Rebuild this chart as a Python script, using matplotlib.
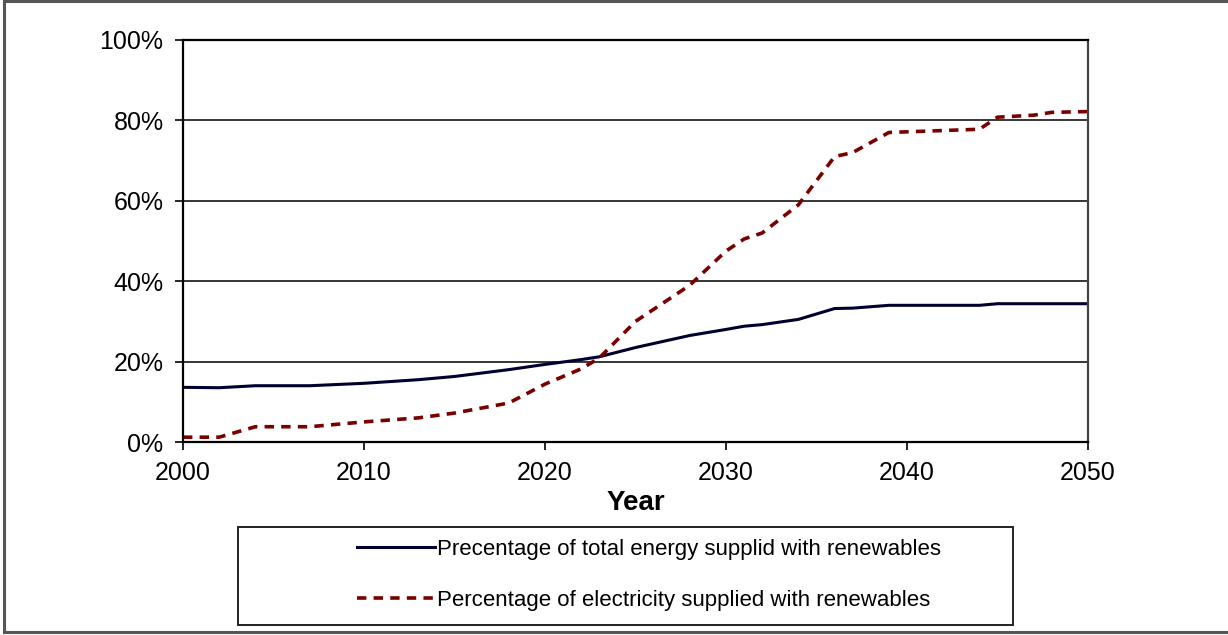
import matplotlib.pyplot as plt
from matplotlib.lines import Line2D
from matplotlib.patches import Rectangle
from matplotlib.ticker import FuncFormatter

plt.rcParams['font.family'] = ['Liberation Sans', 'DejaVu Sans']

years = [2000, 2002, 2004, 2007, 2010, 2013, 2015, 2018, 2020, 2022, 2023,
         2025, 2028, 2030, 2031, 2032, 2034, 2036, 2037, 2039, 2044, 2045,
         2047, 2048, 2050]
total_energy = [13.6, 13.5, 14.0, 14.0, 14.6, 15.5, 16.3, 18.0, 19.3, 20.5, 21.2,
                23.5, 26.5, 28.0, 28.8, 29.2, 30.5, 33.2, 33.3, 34.0, 34.0, 34.4,
                34.4, 34.4, 34.4]
electricity = [1.2, 1.2, 3.8, 3.8, 5.0, 6.0, 7.2, 9.7, 14.4, 18.2, 20.9,
               30.0, 39.0, 47.5, 50.5, 52.0, 59.0, 71.0, 72.0, 77.0, 77.8, 80.8,
               81.3, 82.0, 82.2]

label_total = "Precentage of total energy supplid with renewables"
label_elec = "Percentage of electricity supplied with renewables"

fig = plt.figure(figsize=(12.28, 6.35), dpi=100)
ax = fig.add_axes([183/1228, 1-442/635, 905/1228, 402/635])

ax.plot(years, total_energy, color='#000030', lw=2.2, label=label_total)
ax.plot(years, electricity, color='#7a0000', lw=2.6, dashes=(2.6, 2.0), label=label_elec)

ax.set_xlim(2000, 2050)
ax.set_ylim(0, 100)
ax.set_xticks(range(2000, 2051, 10))
ax.set_yticks(range(0, 101, 20))
ax.yaxis.set_major_formatter(FuncFormatter(lambda v, p: f"{v:.0f}%"))
ax.tick_params(axis='both', labelsize=18, direction='out', length=6, width=1.2, colors='black')
ax.tick_params(axis='x', pad=8)
ax.tick_params(axis='y', pad=8)
ax.yaxis.grid(True, color='black', lw=1.1)
ax.set_axisbelow(True)
for side in ['left', 'bottom', 'top']:
    ax.spines[side].set_linewidth(1.6)
    ax.spines[side].set_color('black')
ax.spines['right'].set_linewidth(1.6)
ax.spines['right'].set_color('#444444')

ax.set_xlabel("Year", fontsize=20, fontweight='bold', labelpad=3)

# legend box with the entries placed inside it
fig.patches.append(Rectangle((238/1228, 1-625/635), 775/1228, 98/635,
                             transform=fig.transFigure, fill=False,
                             edgecolor='#222222', lw=1.4))
fig.legend(loc='center left', bbox_to_anchor=(337/1228, 1-575/635),
           frameon=False, fontsize=16, handlelength=3.5, handletextpad=0.1,
           labelspacing=1.35)

# outer frame
border = dict(transform=fig.transFigure, color='#555555', lw=2.2)
fig.lines.append(Line2D([4/1228, 4/1228], [1-632/635, 1], **border))
fig.lines.append(Line2D([4/1228, 1], [1-1/635, 1-1/635], **border))
fig.lines.append(Line2D([4/1228, 1], [1-632/635, 1-632/635], **border))

fig.savefig('out.png', dpi=100)
